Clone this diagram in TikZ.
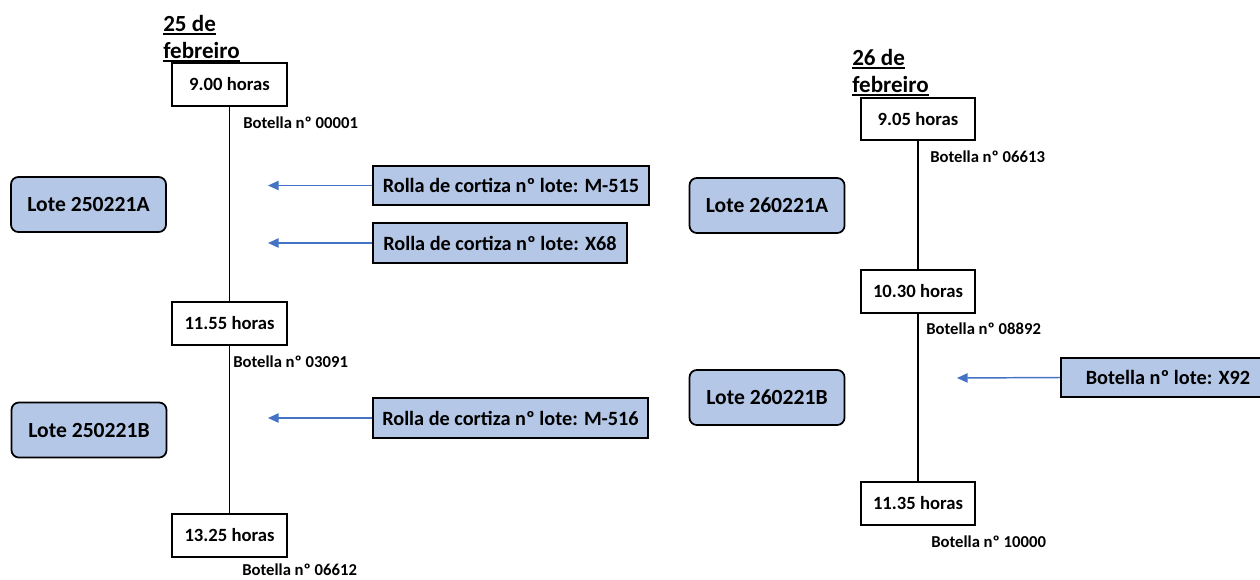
\documentclass[tikz,border=0pt]{standalone}
\usepackage{fontspec}
\setmainfont{Carlito}
\usetikzlibrary{arrows.meta}
\definecolor{boxblue}{HTML}{B4C7E7}
\definecolor{arrowblue}{HTML}{4472C4}
\begin{document}
\begin{tikzpicture}[x=0.75pt,y=-0.75pt,
  timebox/.style={draw=black, line width=1.4pt, fill=white, inner sep=0pt,
    minimum width=86pt, minimum height=32pt,
    font=\bfseries\fontsize{14}{16}\selectfont},
  lotebox/.style={draw=black, line width=1.3pt, fill=boxblue, rounded corners=5.5pt,
    inner sep=0pt, minimum width=116.25pt, minimum height=41.25pt,
    font=\bfseries\fontsize{16.2}{19}\selectfont},
  rollabox/.style={draw=black, line width=1.4pt, fill=boxblue, inner sep=0pt,
    minimum height=29.5pt, font=\bfseries\fontsize{15.2}{18}\selectfont},
  botlabel/.style={anchor=west, inner sep=0pt, font=\bfseries\fontsize{12.5}{15}\selectfont},
  titletext/.style={anchor=base west, inner sep=0pt, font=\bfseries\fontsize{17.3}{20}\selectfont},
  uline/.style={line width=1.4pt},
  tline/.style={line width=1.3pt},
  feed/.style={draw=arrowblue, line width=1.1pt, -{Triangle[length=8pt,width=7pt]}}
]
\useasboundingbox (0,0) rectangle (1260,579);

% ---------- 25 de febreiro ----------
\node[titletext] (t1a) at (163,31) {25 de};
\node[titletext] (t1b) at (163,58) {febreiro};
\draw[uline] ([yshift=-2.2pt]t1a.base west) -- ([yshift=-2.2pt]t1a.base east);
\draw[uline] ([yshift=-2.2pt]t1b.base west) -- ([yshift=-2.2pt]t1b.base east);

\node[timebox] (h1) at (229.5,84.5) {9.00 horas};
\node[timebox] (h2) at (229.5,323.5) {11.55 horas};
\node[timebox] (h3) at (229.5,535.5) {13.25 horas};
\draw[tline] (h1.south) -- (h2.north);
\draw[tline] (h2.south) -- (h3.north);

\node[botlabel] (b1) at (243,123) {Botella nº 00001};
\node[botlabel] (b2) at (233,362) {Botella nº 03091};
\node[botlabel] (b3) at (242,570) {Botella nº 06612};

\node[lotebox] (l1) at (88.5,204.5) {Lote 250221A};
\node[lotebox] (l2) at (89,430) {Lote 250221B};

\node[rollabox, minimum width=207pt] (r1) at (511,185.5) {Rolla de cortiza nº lote: M-515};
\node[rollabox, minimum width=190.5pt] (r2) at (500,243) {Rolla de cortiza nº lote: X68};
\node[rollabox, minimum width=206.25pt] (r3) at (510.5,418) {Rolla de cortiza nº lote: M-516};

\coordinate (a1) at (268,185.5);
\coordinate (a2) at (268,243);
\coordinate (a3) at (268,418);
\draw[feed] (r1.west) -- (a1);
\draw[feed] (r2.west) -- (a2);
\draw[feed] (r3.west) -- (a3);

% ---------- 26 de febreiro ----------
\node[titletext] (t2a) at (852,65) {26 de};
\node[titletext] (t2b) at (852,92) {febreiro};
\draw[uline] ([yshift=-2.2pt]t2a.base west) -- ([yshift=-2.2pt]t2a.base east);
\draw[uline] ([yshift=-2.2pt]t2b.base west) -- ([yshift=-2.2pt]t2b.base east);

\node[timebox, minimum width=85.5pt] (k1) at (918,119) {9.05 horas};
\node[timebox, minimum width=85.5pt] (k2) at (918,291.5) {10.30 horas};
\node[timebox, minimum width=85.5pt] (k3) at (918,503.5) {11.35 horas};
\draw[tline] (k1.south) -- (k2.north);
\draw[tline] (k2.south) -- (k3.north);

\node[botlabel] (c1) at (930,157) {Botella nº 06613};
\node[botlabel] (c2) at (926,329) {Botella nº 08892};
\node[botlabel] (c3) at (931,541.5) {Botella nº 10000};

\node[lotebox] (m1) at (767,205.5) {Lote 260221A};
\node[lotebox] (m2) at (767,397.5) {Lote 260221B};

\node[rollabox, minimum width=160.5pt] (r4) at (1168,377.5) {Botella nº lote: X92};
\coordinate (a4) at (957,378);
\draw[feed] (r4.west) -- (a4);
\end{tikzpicture}
\end{document}
